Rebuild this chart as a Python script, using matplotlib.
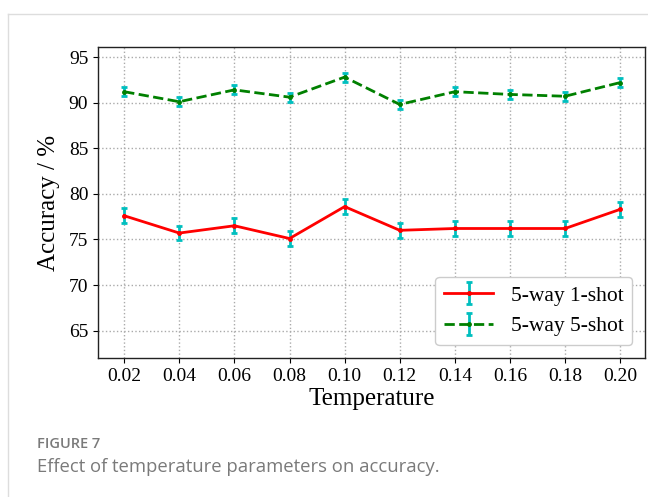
import matplotlib
matplotlib.use("Agg")
import matplotlib.pyplot as plt
from matplotlib.lines import Line2D

temps = [0.02, 0.04, 0.06, 0.08, 0.10, 0.12, 0.14, 0.16, 0.18, 0.20]
tick_labels = ["0.02", "0.04", "0.06", "0.08", "0.10", "0.12", "0.14", "0.16", "0.18", "0.20"]
acc_1shot = [77.6, 75.7, 76.5, 75.1, 78.6, 76.0, 76.2, 76.2, 76.2, 78.3]
err_1shot = [0.8, 0.8, 0.8, 0.8, 0.8, 0.8, 0.8, 0.8, 0.8, 0.8]
acc_5shot = [91.2, 90.1, 91.4, 90.6, 92.8, 89.8, 91.2, 90.9, 90.7, 92.2]
err_5shot = [0.5, 0.5, 0.5, 0.5, 0.5, 0.5, 0.5, 0.5, 0.5, 0.5]
yticks = [65, 70, 75, 80, 85, 90, 95]

serif = ["Liberation Serif", "DejaVu Serif"]

fig = plt.figure(figsize=(6.48, 4.97), dpi=100)
ax = fig.add_axes([98/648, 1-358/497, (645-98)/648, (358-47)/497])

ax.errorbar(temps, acc_1shot, yerr=err_1shot, color="red", lw=2, ecolor="c",
            elinewidth=2, capsize=2.5, capthick=2, marker='o', markersize=2.5,
            label="5-way 1-shot", zorder=3)
ax.errorbar(temps, acc_5shot, yerr=err_5shot, color="green", lw=2, ls="--",
            ecolor="c", elinewidth=2, capsize=2.5, capthick=2, marker='o', markersize=2.5,
            label="5-way 5-shot", zorder=3)

ax.set_xlim(0.0105, 0.209)
ax.set_ylim(62.0, 96.1)
ax.set_xticks(temps)
ax.set_xticklabels(tick_labels, family=serif, fontsize=14)
ax.set_yticks(yticks)
ax.set_yticklabels([str(v) for v in yticks], family=serif, fontsize=14)
ax.grid(True, ls=":", color="#aaaaaa", lw=1)
ax.set_axisbelow(True)
ax.set_xlabel("Temperature", family=serif, fontsize=18, labelpad=2)
ax.set_ylabel("Accuracy / %", family=serif, fontsize=18, labelpad=6)
for s in ax.spines.values():
    s.set_linewidth(1.0)
    s.set_color("#222222")

leg = ax.legend(loc="lower right", prop={"family": serif, "size": 15.5},
                fancybox=True, framealpha=1, edgecolor="#cccccc",
                borderaxespad=0.6, handlelength=2.3)

# card border
fig.add_artist(Line2D([8/648, 8/648], [0, 1-14/497], transform=fig.transFigure, color="#dddddd", lw=1))
fig.add_artist(Line2D([8/648, 1], [1-14/497, 1-14/497], transform=fig.transFigure, color="#dddddd", lw=1))

fig.text(37/648, 1-444/497, "FIGURE 7", family="Open Sans", fontsize=10.5, weight="semibold",
         color="#7a7a7a", va="center")
fig.text(37/648, 1-467/497, "Effect of temperature parameters on accuracy.", family="Open Sans",
         fontsize=13.3, color="#7a7a7a", va="center")

fig.savefig("out.png", dpi=100)
